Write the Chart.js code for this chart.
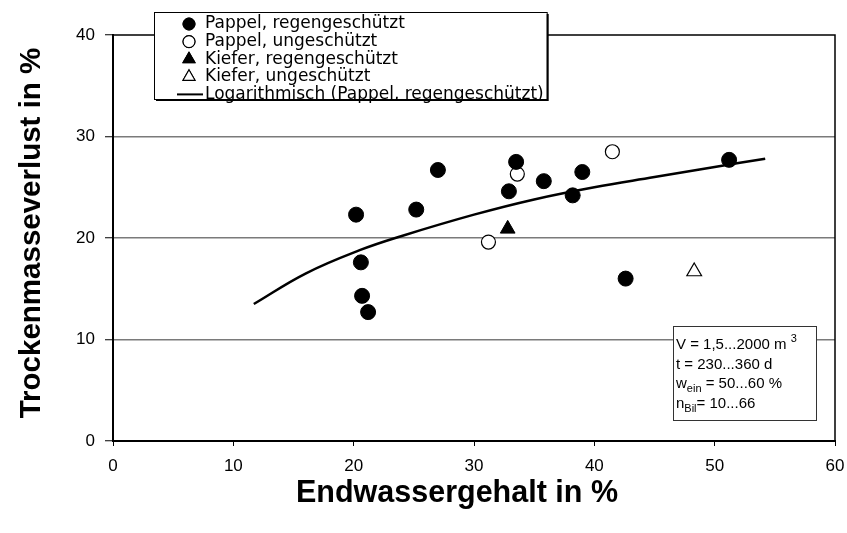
<!DOCTYPE html>
<html lang="de">
<head>
  <meta charset="UTF-8">
  <title>Trockenmasseverlust</title>
  <style>
    body { margin: 0; background: #ffffff; }
    #wrap { width: 847px; height: 533px; }
  </style>
</head>
<body>
  <div id="wrap"><canvas id="chart" width="847" height="533"></canvas></div>
  <script src="https://cdn.jsdelivr.net/npm/chart.js"></script>
  <script>
    const FONT = '"Liberation Sans", Arial, sans-serif';
    const WIDE = '"DejaVu Sans", sans-serif';

    // Pappel, regengeschützt
    const pappelRegenX = [20.2, 20.6, 20.7, 21.2, 25.2, 27.0, 32.9, 33.5, 35.8, 38.2, 39.0, 42.6, 51.2];
    const pappelRegenY = [22.3, 17.6, 14.3, 12.7, 22.8, 26.7, 24.6, 27.5, 25.6, 24.2, 26.5, 16.0, 27.7];
    // Pappel, ungeschützt
    const pappelOffenX = [31.2, 33.6, 41.5];
    const pappelOffenY = [19.6, 26.3, 28.5];
    // Kiefer
    const kieferRegenX = [32.8];
    const kieferRegenY = [20.9];
    const kieferOffenX = [48.3];
    const kieferOffenY = [16.7];
    // Logarithmische Trendlinie
    const trendX = [11.7, 16, 20.5, 24, 30, 35, 40, 45, 50, 54.2];
    const trendY = [13.5, 16.5, 18.8, 20.2, 22.3, 23.8, 25.0, 26.0, 27.0, 27.8];

    const xTicks = [0, 10, 20, 30, 40, 50, 60];
    const yTicks = [0, 10, 20, 30, 40];

    const infoLines = [
      [{ t: 'V = 1,5...2000 m ' }, { t: '3', sup: true }],
      [{ t: 't = 230...360 d' }],
      [{ t: 'w' }, { t: 'ein', sub: true }, { t: ' = 50...60 %' }],
      [{ t: 'n' }, { t: 'Bil', sub: true }, { t: '= 10...66' }]
    ];

    const toPoints = (xs, ys) => xs.map((x, i) => ({ x: x, y: ys[i] }));

    // Rahmen oben/rechts, Legende, Infobox, Achsentitel
    const extras = {
      id: 'extras',
      afterDraw(chart) {
        const ctx = chart.ctx;
        const a = chart.chartArea;
        ctx.save();

        // frame top + right
        ctx.strokeStyle = '#000';
        ctx.lineWidth = 1.5;
        ctx.beginPath();
        ctx.moveTo(a.left, a.top);
        ctx.lineTo(a.right, a.top);
        ctx.lineTo(a.right, a.bottom);
        ctx.stroke();

        // legend
        ctx.font = '17px ' + WIDE;
        const sets = chart.data.datasets;
        let maxW = 0;
        sets.forEach(d => { maxW = Math.max(maxW, ctx.measureText(d.label).width); });
        const lx = 154, ly = 12, textX = 205;
        const lw = textX - lx + maxW + 3, lh = 87;
        ctx.fillStyle = '#000';
        ctx.fillRect(lx + 2, ly + 2, lw, lh);
        ctx.fillStyle = '#fff';
        ctx.fillRect(lx, ly, lw, lh);
        ctx.lineWidth = 1;
        ctx.strokeStyle = '#000';
        ctx.strokeRect(lx + 0.5, ly + 0.5, lw, lh);
        ctx.textBaseline = 'middle';
        sets.forEach((d, i) => {
          const cy = ly + 12 + i * 17.6;
          if (d.showLine) {
            ctx.strokeStyle = d.borderColor;
            ctx.lineWidth = 2;
            ctx.beginPath();
            ctx.moveTo(177, cy);
            ctx.lineTo(203, cy);
            ctx.stroke();
          } else {
            Chart.helpers.drawPoint(ctx, {
              pointStyle: d.pointStyle,
              radius: d.pointStyle === 'triangle' ? 7 : 6,
              borderWidth: d.borderWidth,
              rotation: 0
            }, 189, cy);
            ctx.fillStyle = d.backgroundColor;
            ctx.strokeStyle = d.borderColor;
            ctx.lineWidth = d.borderWidth;
            ctx.fill();
            ctx.stroke();
          }
          ctx.fillStyle = '#000';
          ctx.fillText(d.label, textX, cy);
        });

        // info box
        const bx = 673, by = 326, bw = 143, bh = 94;
        ctx.fillStyle = '#fff';
        ctx.fillRect(bx, by, bw, bh);
        ctx.strokeStyle = '#333';
        ctx.lineWidth = 1;
        ctx.strokeRect(bx + 0.5, by + 0.5, bw, bh);
        ctx.fillStyle = '#000';
        ctx.textBaseline = 'alphabetic';
        infoLines.forEach((parts, i) => {
          let cx = bx + 3;
          const base = by + 23 + i * 19.5;
          parts.forEach(p => {
            ctx.font = (p.sub || p.sup ? '11px ' : '15px ') + FONT;
            const dy = p.sub ? 4 : (p.sup ? -7 : 0);
            ctx.fillText(p.t, cx, base + dy);
            cx += ctx.measureText(p.t).width;
          });
        });

        // axis titles
        ctx.fillStyle = '#000';
        ctx.textAlign = 'center';
        ctx.textBaseline = 'middle';
        ctx.font = 'bold 30.5px ' + FONT;
        ctx.fillText('Endwassergehalt in %', 457, 494);
        ctx.font = 'bold 29.5px ' + FONT;
        ctx.translate(32, 233);
        ctx.rotate(-Math.PI / 2);
        ctx.fillText('Trockenmasseverlust in %', 0, 0);
        ctx.restore();
      }
    };

    const ctx = document.getElementById('chart').getContext('2d');
    new Chart(ctx, {
      type: 'scatter',
      data: {
        datasets: [
          {
            label: 'Pappel, regengeschützt',
            data: toPoints(pappelRegenX, pappelRegenY),
            pointStyle: 'circle', pointRadius: 7.5,
            backgroundColor: '#000', borderColor: '#000', borderWidth: 1
          },
          {
            label: 'Pappel, ungeschützt',
            data: toPoints(pappelOffenX, pappelOffenY),
            pointStyle: 'circle', pointRadius: 7,
            backgroundColor: '#fff', borderColor: '#000', borderWidth: 1.2
          },
          {
            label: 'Kiefer, regengeschützt',
            data: toPoints(kieferRegenX, kieferRegenY),
            pointStyle: 'triangle', pointRadius: 8.5,
            backgroundColor: '#000', borderColor: '#000', borderWidth: 1
          },
          {
            label: 'Kiefer, ungeschützt',
            data: toPoints(kieferOffenX, kieferOffenY),
            pointStyle: 'triangle', pointRadius: 8.5,
            backgroundColor: '#fff', borderColor: '#000', borderWidth: 1.2
          },
          {
            label: 'Logarithmisch (Pappel, regengeschützt)',
            data: toPoints(trendX, trendY),
            showLine: true, tension: 0.4, pointRadius: 0,
            borderColor: '#000', borderWidth: 2.5, backgroundColor: '#000'
          }
        ]
      },
      options: {
        responsive: false,
        animation: false,
        layout: { padding: { left: 0, top: 35, right: 12, bottom: 0 } },
        plugins: {
          legend: { display: false },
          tooltip: { enabled: false }
        },
        scales: {
          x: {
            type: 'linear', min: 0, max: 60,
            afterBuildTicks: s => { s.ticks = xTicks.map(v => ({ value: v })); },
            afterFit: s => { s.height = 92; s.paddingLeft = 0; s.paddingRight = 0; },
            border: { color: '#000', width: 2 },
            grid: { drawOnChartArea: false, drawTicks: true, tickLength: 5, tickColor: '#000', tickWidth: 1 },
            ticks: { color: '#000', font: { family: FONT, size: 17 }, padding: 10, maxRotation: 0 }
          },
          y: {
            type: 'linear', min: 0, max: 40,
            afterBuildTicks: s => { s.ticks = yTicks.map(v => ({ value: v })); },
            afterFit: s => { s.width = 113; s.paddingTop = 0; s.paddingBottom = 0; },
            border: { color: '#000', width: 2 },
            grid: {
              color: c => (c.tick && (c.tick.value === 0 || c.tick.value === 40)) ? 'rgba(0,0,0,0)' : '#7a7a7a',
              lineWidth: 1.5,
              drawTicks: true, tickLength: 8, tickColor: '#000', tickWidth: 1
            },
            ticks: { color: '#000', font: { family: FONT, size: 17 }, padding: 10 }
          }
        }
      },
      plugins: [extras]
    });
  </script>
</body>
</html>
